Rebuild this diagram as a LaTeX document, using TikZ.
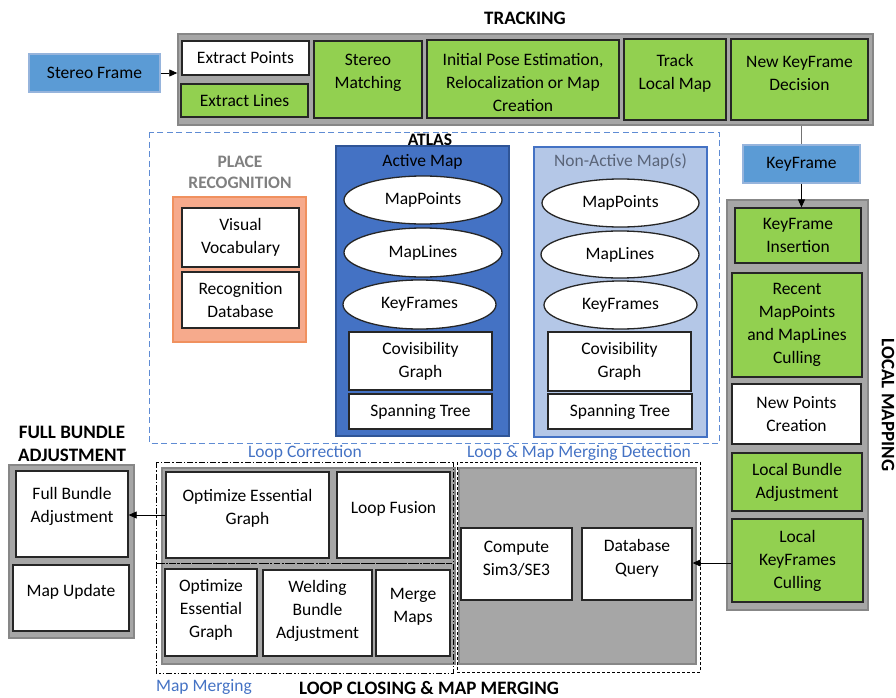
\documentclass[tikz,border=0pt]{standalone}
\usepackage{fontspec}
\setmainfont{Carlito}
\usetikzlibrary{arrows.meta,shapes.geometric}

\definecolor{kgreen}{RGB}{146,208,80}
\definecolor{kblue}{RGB}{91,155,213}
\definecolor{kblueedge}{RGB}{150,180,220}
\definecolor{kgray}{RGB}{166,166,166}
\definecolor{kgrayedge}{RGB}{135,135,135}
\definecolor{activefill}{RGB}{68,114,196}
\definecolor{activeedge}{RGB}{47,85,151}
\definecolor{passivefill}{RGB}{180,199,231}
\definecolor{passiveedge}{RGB}{68,114,196}
\definecolor{salmon}{RGB}{246,170,140}
\definecolor{salmonedge}{RGB}{240,145,95}
\definecolor{labelblue}{RGB}{68,114,196}
\definecolor{atlasdash}{RGB}{95,140,212}
\definecolor{placegray}{RGB}{128,128,128}
\definecolor{passivetext}{RGB}{90,100,120}

\tikzset{
  base/.style={font=\fontsize{17.5}{23}\selectfont, align=center, inner sep=0pt},
  sz/.style 2 args={minimum width=#1pt, minimum height=#2pt},
  box/.style={base, rectangle, draw=black!85, line width=1.3pt, fill=white},
  gbox/.style={box, fill=kgreen},
  bbox/.style={base, rectangle, draw=kblueedge, line width=1.3pt, fill=kblue},
  panel/.style={rectangle, draw=kgrayedge, line width=1.5pt, fill=kgray, inner sep=0pt},
  oval/.style={base, ellipse, draw=black!85, line width=1.3pt, fill=white},
  title/.style={font=\fontsize{19}{23}\selectfont\bfseries, align=center, inner sep=0pt},
  subtitle/.style={font=\fontsize{17.5}{21}\selectfont\bfseries, align=center, inner sep=0pt},
  bluelabel/.style={base, text=labelblue},
  conn/.style={draw=black, line width=0.8pt, -{Triangle[length=8pt,width=7pt]}},
  dashdot/.style={draw=black, line width=0.9pt, dash pattern=on 6pt off 2pt on 1.5pt off 2pt},
  dashdotdot/.style={draw=black, line width=0.9pt, dash pattern=on 6pt off 2pt on 1.5pt off 2pt on 1.5pt off 2pt},
}

\begin{document}
\begin{tikzpicture}[x=1pt, y=-1pt]
\useasboundingbox (0,0) rectangle (896,698);

% ---------------- Tracking ----------------
\node[title] (trkT) at (525,18) {TRACKING};
\node[panel, sz={695}{91}] (trk) at (525.5,79.5) {};
\node[bbox, sz={131}{38}] (sf) at (94.5,73) {Stereo Frame};
\node[box, sz={127}{34}] (ep) at (245.5,58) {Extract Points};
\node[gbox, sz={127}{33}] (el) at (244.5,100.5) {Extract Lines};
\node[gbox, sz={108}{77}] (sm) at (368,79.5) {};
\node[base] (smT) at (368,72.5) {Stereo\\Matching};
\node[gbox, sz={192}{78}] (ipe) at (523,79) {};
\node[base] (ipeT) at (523,82) {Initial Pose Estimation,\\Relocalization or Map\\Creation};
\node[gbox, sz={102}{81}] (tlm) at (675,79.5) {};
\node[base] (tlmT) at (675,73.5) {Track\\Local Map};
\node[gbox, sz={137}{81}] (nkd) at (799.5,79.5) {};
\node[base] (nkdT) at (799.5,73.5) {New KeyFrame\\Decision};

\draw[conn] (sf.east) -- (sf.east -| trk.west);

% ---------------- KeyFrame and Local Mapping ----------------
\node[bbox, sz={117}{38}] (kf) at (801.5,164) {KeyFrame};
\draw[draw=black!55, line width=1pt] (kf.north |- trk.south) -- (kf.north);

\node[panel, sz={141}{410}] (lm) at (797.5,405) {};
\node[title, rotate=-90] (lmT) at (888,405) {LOCAL MAPPING};
\node[gbox, sz={126}{55}] (kfi) at (798,235.5) {KeyFrame\\Insertion};
\node[gbox, sz={130}{104}] (rmc) at (797,325) {Recent\\MapPoints\\and MapLines\\Culling};
\node[box, sz={129}{60}] (npc) at (796.5,414) {New Points\\Creation};
\node[gbox, sz={130}{58}] (lba) at (797,482) {Local Bundle\\Adjustment};
\node[gbox, sz={131}{83}] (lkc) at (797.5,560.5) {Local\\KeyFrames\\Culling};

\draw[conn] (kf.south) -- (kf.south |- kfi.north);

% ---------------- Atlas ----------------
\draw[draw=atlasdash, line width=1pt, dash pattern=on 6pt off 3.5pt] (149,132) rectangle (719,443);
\node[subtitle] (atlasT) at (430,140) {ATLAS};

\node[subtitle, text=placegray] (prT) at (240,172.5) {PLACE\\RECOGNITION};
\node[rectangle, draw=salmonedge, line width=1.3pt, fill=salmon, sz={133}{145}] (pr) at (239.5,269.5) {};
\node[box, sz={117}{59}] (vv) at (240.5,237.5) {Visual\\Vocabulary};
\node[box, sz={117}{56}] (rdb) at (240.5,300) {Recognition\\Database};

% active map
\node[rectangle, draw=activeedge, line width=1.5pt, fill=activefill, sz={173}{290}] (am) at (422.5,291) {};
\node[base] (amT) at (422.5,162) {Active Map};
\node[oval, sz={158}{48}] (amp) at (423,200) {MapPoints};
\node[oval, sz={158}{49}] (aml) at (423,252.5) {MapLines};
\node[oval, sz={153}{49}] (akf) at (419.5,304.5) {KeyFrames};
\node[box, sz={143}{58}] (acg) at (420.5,361) {Covisibility\\Graph};
\node[box, sz={143}{35}] (ast) at (420.5,411.5) {Spanning Tree};

% non-active maps
\node[rectangle, draw=passiveedge, line width=1.5pt, fill=passivefill, sz={173}{290}] (nm) at (620.5,292) {};
\node[base, text=passivetext] (nmT) at (620.5,162) {Non-Active Map(s)};
\node[oval, sz={157}{48}] (nmp) at (620.5,203) {MapPoints};
\node[oval, sz={158}{47}] (nml) at (620,254.5) {MapLines};
\node[oval, sz={153}{48}] (nkf) at (620.5,305) {KeyFrames};
\node[box, sz={143}{59}] (ncg) at (619.5,361.5) {Covisibility\\Graph};
\node[box, sz={144}{35}] (nst) at (620,411.5) {Spanning Tree};

% ---------------- Full Bundle Adjustment ----------------
\node[title] (fbaT) at (72,444) {FULL BUNDLE\\ADJUSTMENT};
\node[panel, sz={125}{173}] (fbp) at (71.5,551.5) {};
\node[box, sz={112}{86}] (fba) at (72,514) {};
\node[base] (fbaBT) at (72,506.5) {Full Bundle\\Adjustment};
\node[box, sz={116}{66}] (mu) at (71,598) {};
\node[base] (muT) at (71,592) {Map Update};

% ---------------- Loop Closing & Map Merging ----------------
\node[panel, sz={293}{196}] (lcp) at (308.5,566) {};
\node[panel, sz={237}{196}] (ldp) at (577.5,566) {};

\node[box, sz={163}{86}] (oeg1) at (247.5,515) {};
\node[base] (oeg1T) at (247.5,508.5) {Optimize Essential\\Graph};
\node[box, sz={113}{86}] (lf) at (393.5,515) {};
\node[base] (lfT) at (393.5,509) {Loop Fusion};
\node[box, sz={92}{87}] (oeg2) at (211,612.5) {};
\node[base] (oeg2T) at (211,610) {Optimize\\Essential\\Graph};
\node[box, sz={109}{86}] (wba) at (317.5,613) {};
\node[base] (wbaT) at (317.5,610.5) {Welding\\Bundle\\Adjustment};
\node[box, sz={74}{86}] (mm) at (413,613) {};
\node[base] (mmT) at (413,606.5) {Merge\\Maps};
\node[box, sz={111}{72}] (cs) at (516.5,564) {};
\node[base] (csT) at (516.5,558.5) {Compute\\Sim3/SE3};
\node[box, sz={110}{72}] (dbq) at (637,564) {};
\node[base] (dbqT) at (637,558.5) {Database\\Query};

% group outlines
\draw[dashdot] (156,462) rectangle (453,563);
\draw[dashdotdot] (156,563) rectangle (453,673);
\draw[draw=black, line width=0.9pt, dash pattern=on 3pt off 2pt] (457,462) rectangle (700,672);

\node[bluelabel] (lcT) at (305,453) {Loop Correction};
\node[bluelabel] (ldT) at (579,453) {Loop \& Map Merging Detection};
\node[bluelabel] (mmgT) at (204,687) {Map Merging};
\node[title] (lcmT) at (429,688) {LOOP CLOSING \& MAP MERGING};

% connectors
\draw[conn] (oeg1.west) -- (oeg1.west -| fba.east);
\draw[conn] (lkc.west |- 0,563) -- (dbq.east |- 0,563);

\end{tikzpicture}
\end{document}
